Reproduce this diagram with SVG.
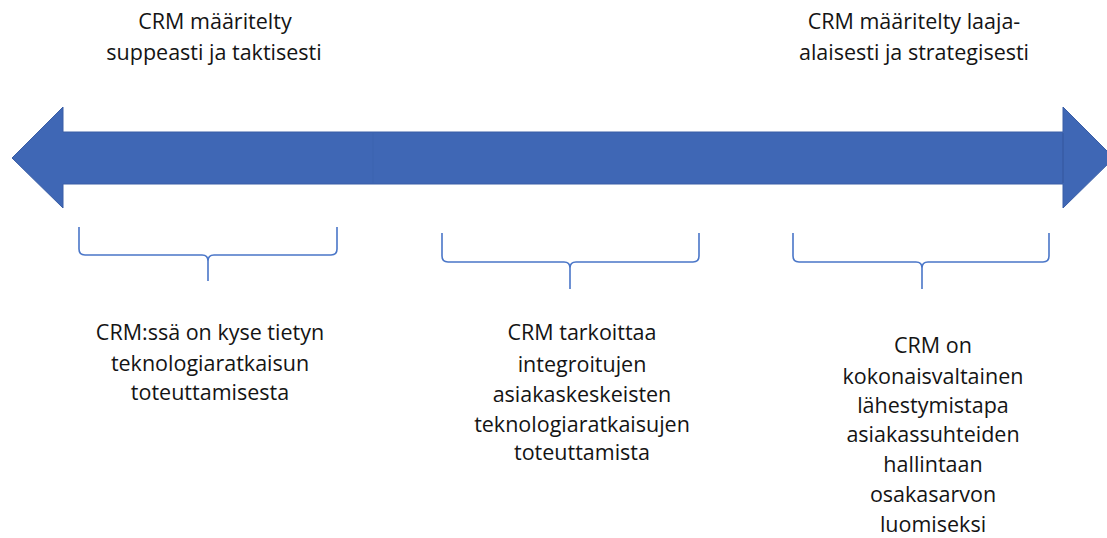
<svg xmlns="http://www.w3.org/2000/svg" width="1107" height="538" viewBox="0 0 1107 538">
<style>
text{font-family:"Open Sans","Liberation Sans",sans-serif;font-size:21.5px;fill:#141414;text-anchor:middle}
.brace{fill:none;stroke:#4a76c8;stroke-width:1.6;stroke-linejoin:round}
.arrow{fill:#3f67b5;stroke:#3a5ea6;stroke-width:1}
</style>
<rect width="1107" height="538" fill="#ffffff"/>
<g id="arrow">
<polygon class="arrow" points="12,158 63,107 63,132 1063,132 1063,107 1114,158 1063,208 1063,184 63,184 63,208"/>
<line x1="373" y1="133" x2="373" y2="183" stroke="#3a5ea6" stroke-width="0.6" opacity="0.5"/>
<line x1="1063" y1="133" x2="1063" y2="183" stroke="#34579c" stroke-width="1"/>
</g>
<g id="label-left-top">
<text x="215" y="29">CRM määritelty</text>
<text x="214" y="60">suppeasti ja taktisesti</text>
</g>
<g id="label-right-top">
<text x="914" y="29">CRM määritelty laaja-</text>
<text x="914" y="60">alaisesti ja strategisesti</text>
</g>
<g id="connectors">
<path class="brace" d="M79,227 L79,249 Q79,255 85,255 L202,255 Q208,255 208,261 L208,281 M208,261 Q208,255 214,255 L331,255 Q337,255 337,249 L337,227"/>
<path class="brace" d="M442,233 L442,256 Q442,262 448,262 L564,262 Q570,262 570,268 L570,289 M570,268 Q570,262 576,262 L693,262 Q699,262 699,256 L699,233"/>
<path class="brace" d="M793,233 L793,256 Q793,262 799,262 L916,262 Q922,262 922,268 L922,289 M922,268 Q922,262 928,262 L1043,262 Q1049,262 1049,256 L1049,233"/>
</g>
<g id="node-1">
<text x="210" y="340">CRM:ssä on kyse tietyn</text>
<text x="210" y="371">teknologiaratkaisun</text>
<text x="210" y="400">toteuttamisesta</text>
</g>
<g id="node-2">
<text x="582" y="340">CRM tarkoittaa</text>
<text x="582" y="372">integroitujen</text>
<text x="582" y="402">asiakaskeskeisten</text>
<text x="582" y="432">teknologiaratkaisujen</text>
<text x="582" y="460">toteuttamista</text>
</g>
<g id="node-3">
<text x="933" y="353">CRM on</text>
<text x="933" y="384">kokonaisvaltainen</text>
<text x="933" y="413">lähestymistapa</text>
<text x="933" y="442">asiakassuhteiden</text>
<text x="933" y="472">hallintaan</text>
<text x="933" y="502">osakasarvon</text>
<text x="933" y="532">luomiseksi</text>
</g>
</svg>
